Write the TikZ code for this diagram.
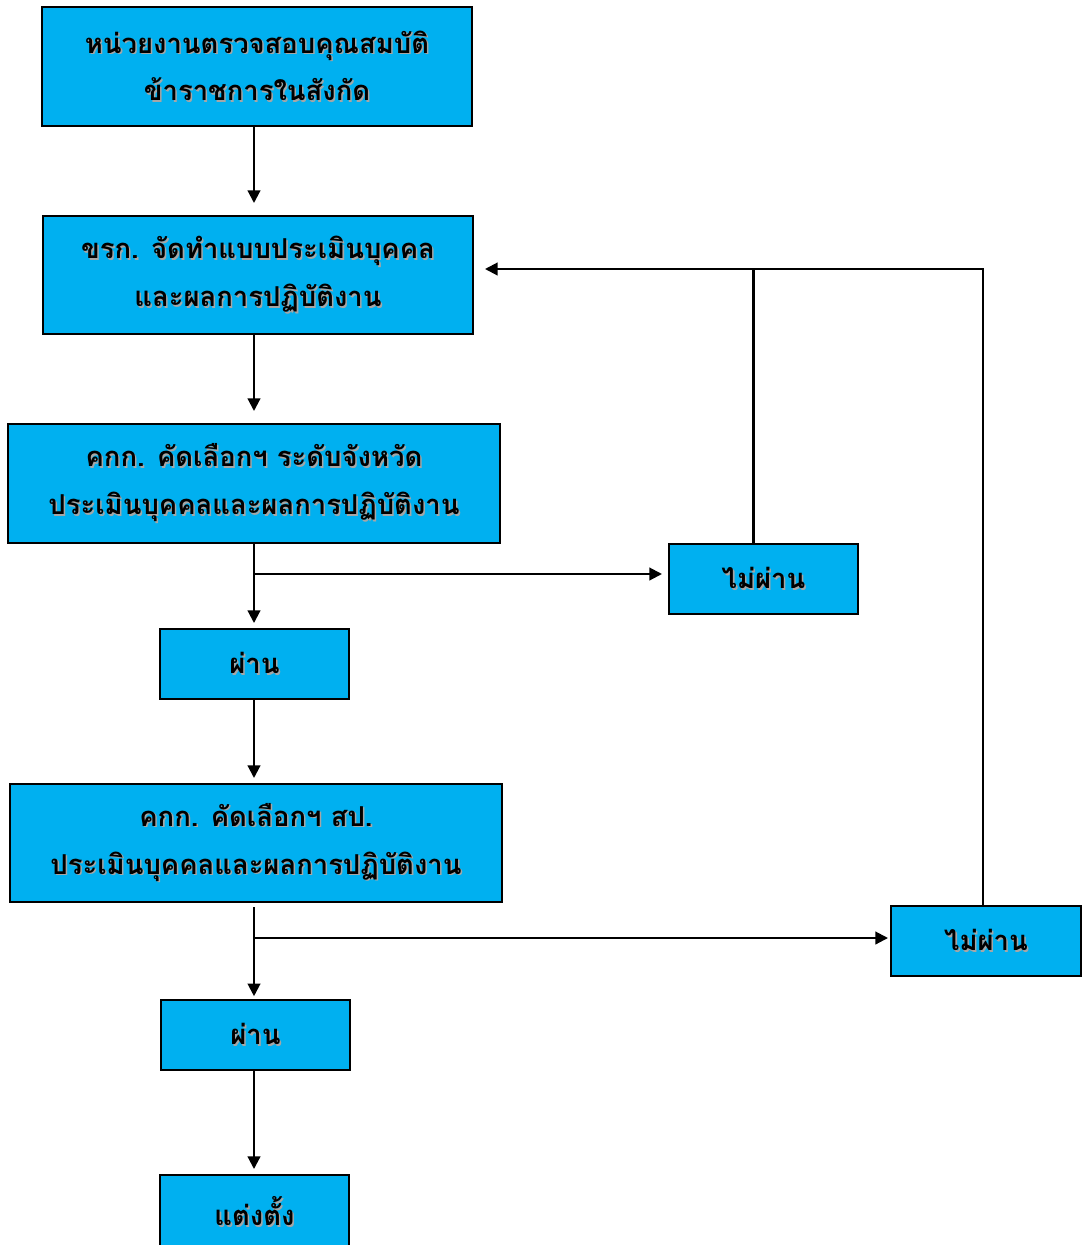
\documentclass[tikz,border=0pt]{standalone}
\usepackage{fontspec}
\usepackage{tikz}
\usetikzlibrary{calc,arrows.meta}
\newfontfamily\thaifont[Script=Thai]{Loma}
\definecolor{boxblue}{HTML}{00B0F0}
\definecolor{shadowgray}{HTML}{A6A6A6}
\newcommand{\sh}[1]{\leavevmode\rlap{\kern1.1pt\raisebox{-1.1pt}{\color{shadowgray}#1}}#1}
\tikzset{
	box/.style={draw, line width=1.4pt, fill=boxblue, align=center, inner sep=0pt,
		font=\thaifont\bfseries\fontsize{19.5}{34}\selectfont},
	line/.style={line width=1.5pt},
	arr/.style={line width=1.5pt, -{Triangle[length=9pt,width=9pt]}, shorten >=0.125cm}
}

\begin{document}
\begin{tikzpicture}[x=0.025cm,y=-0.025cm]
			\useasboundingbox (0,0) rectangle (1082,1245);
			\node[box, minimum width=10.75cm, minimum height=2.975cm] (b1) at (257,66.5) {\sh{หน่วยงานตรวจสอบคุณสมบัติ}\\\sh{ข้าราชการในสังกัด}};
			\node[box, minimum width=10.75cm, minimum height=2.95cm] (b2) at (258,275) {\sh{ขรก. จัดทำแบบประเมินบุคคล}\\\sh{และผลการปฏิบัติงาน}};
			\node[box, minimum width=12.3cm, minimum height=2.975cm] (b3) at (254,483.5) {\sh{คกก. คัดเลือกฯ ระดับจังหวัด}\\\sh{ประเมินบุคคลและผลการปฏิบัติงาน}};
			\node[box, minimum width=4.725cm, minimum height=1.75cm] (fail1) at (763.5,579) {\sh{ไม่ผ่าน}};
			\node[box, minimum width=4.725cm, minimum height=1.75cm] (pass1) at (254.5,664) {\sh{ผ่าน}};
			\node[box, minimum width=12.3cm, minimum height=2.95cm] (b4) at (256,843) {\sh{คกก. คัดเลือกฯ สป.}\\\sh{ประเมินบุคคลและผลการปฏิบัติงาน}};
			\node[box, minimum width=4.75cm, minimum height=1.75cm] (fail2) at (986,941) {\sh{ไม่ผ่าน}};
			\node[box, minimum width=4.725cm, minimum height=1.75cm] (pass2) at (255.5,1035) {\sh{ผ่าน}};
			\node[box, minimum width=4.725cm, minimum height=1.85cm] (appoint) at (254.5,1212) {\sh{แต่งตั้ง}};
			%
			\coordinate (j1) at (254,574);
			\coordinate (j2) at (254,938);
			\coordinate (fb) at (473,269);
			\draw[arr, shorten >=0.3cm] (b1.south -| j1) -- (b2.north -| j1);
			\draw[arr, shorten >=0.3cm] (b2.south -| j1) -- (b3.north -| j1);
			\draw[arr] (b3.south -| j1) -- (pass1.north -| j1);
			\draw[arr, shorten >=0.15cm] (j1) -- (fail1.west |- j1);
			\draw[arr] (pass1.south -| j1) -- (b4.north -| j1);
			\draw[arr, shorten <=0.1cm, shorten >=0.07cm] (b4.south -| j1) -- (pass2.north -| j1);
			\draw[arr, shorten >=0.05cm] (j2) -- (fail2.west |- j2);
			\draw[arr] (pass2.south -| j1) -- (appoint.north -| j1);
			% back to ขรก.
			\draw[line] ([xshift=-0.25cm]fail1.north) -- ([xshift=-0.25cm]fail1.north |- fb);
			\draw[arr, shorten >=0.3cm] ([xshift=-0.075cm]fail2.north) |- (fb);
		\end{tikzpicture}
\end{document}
